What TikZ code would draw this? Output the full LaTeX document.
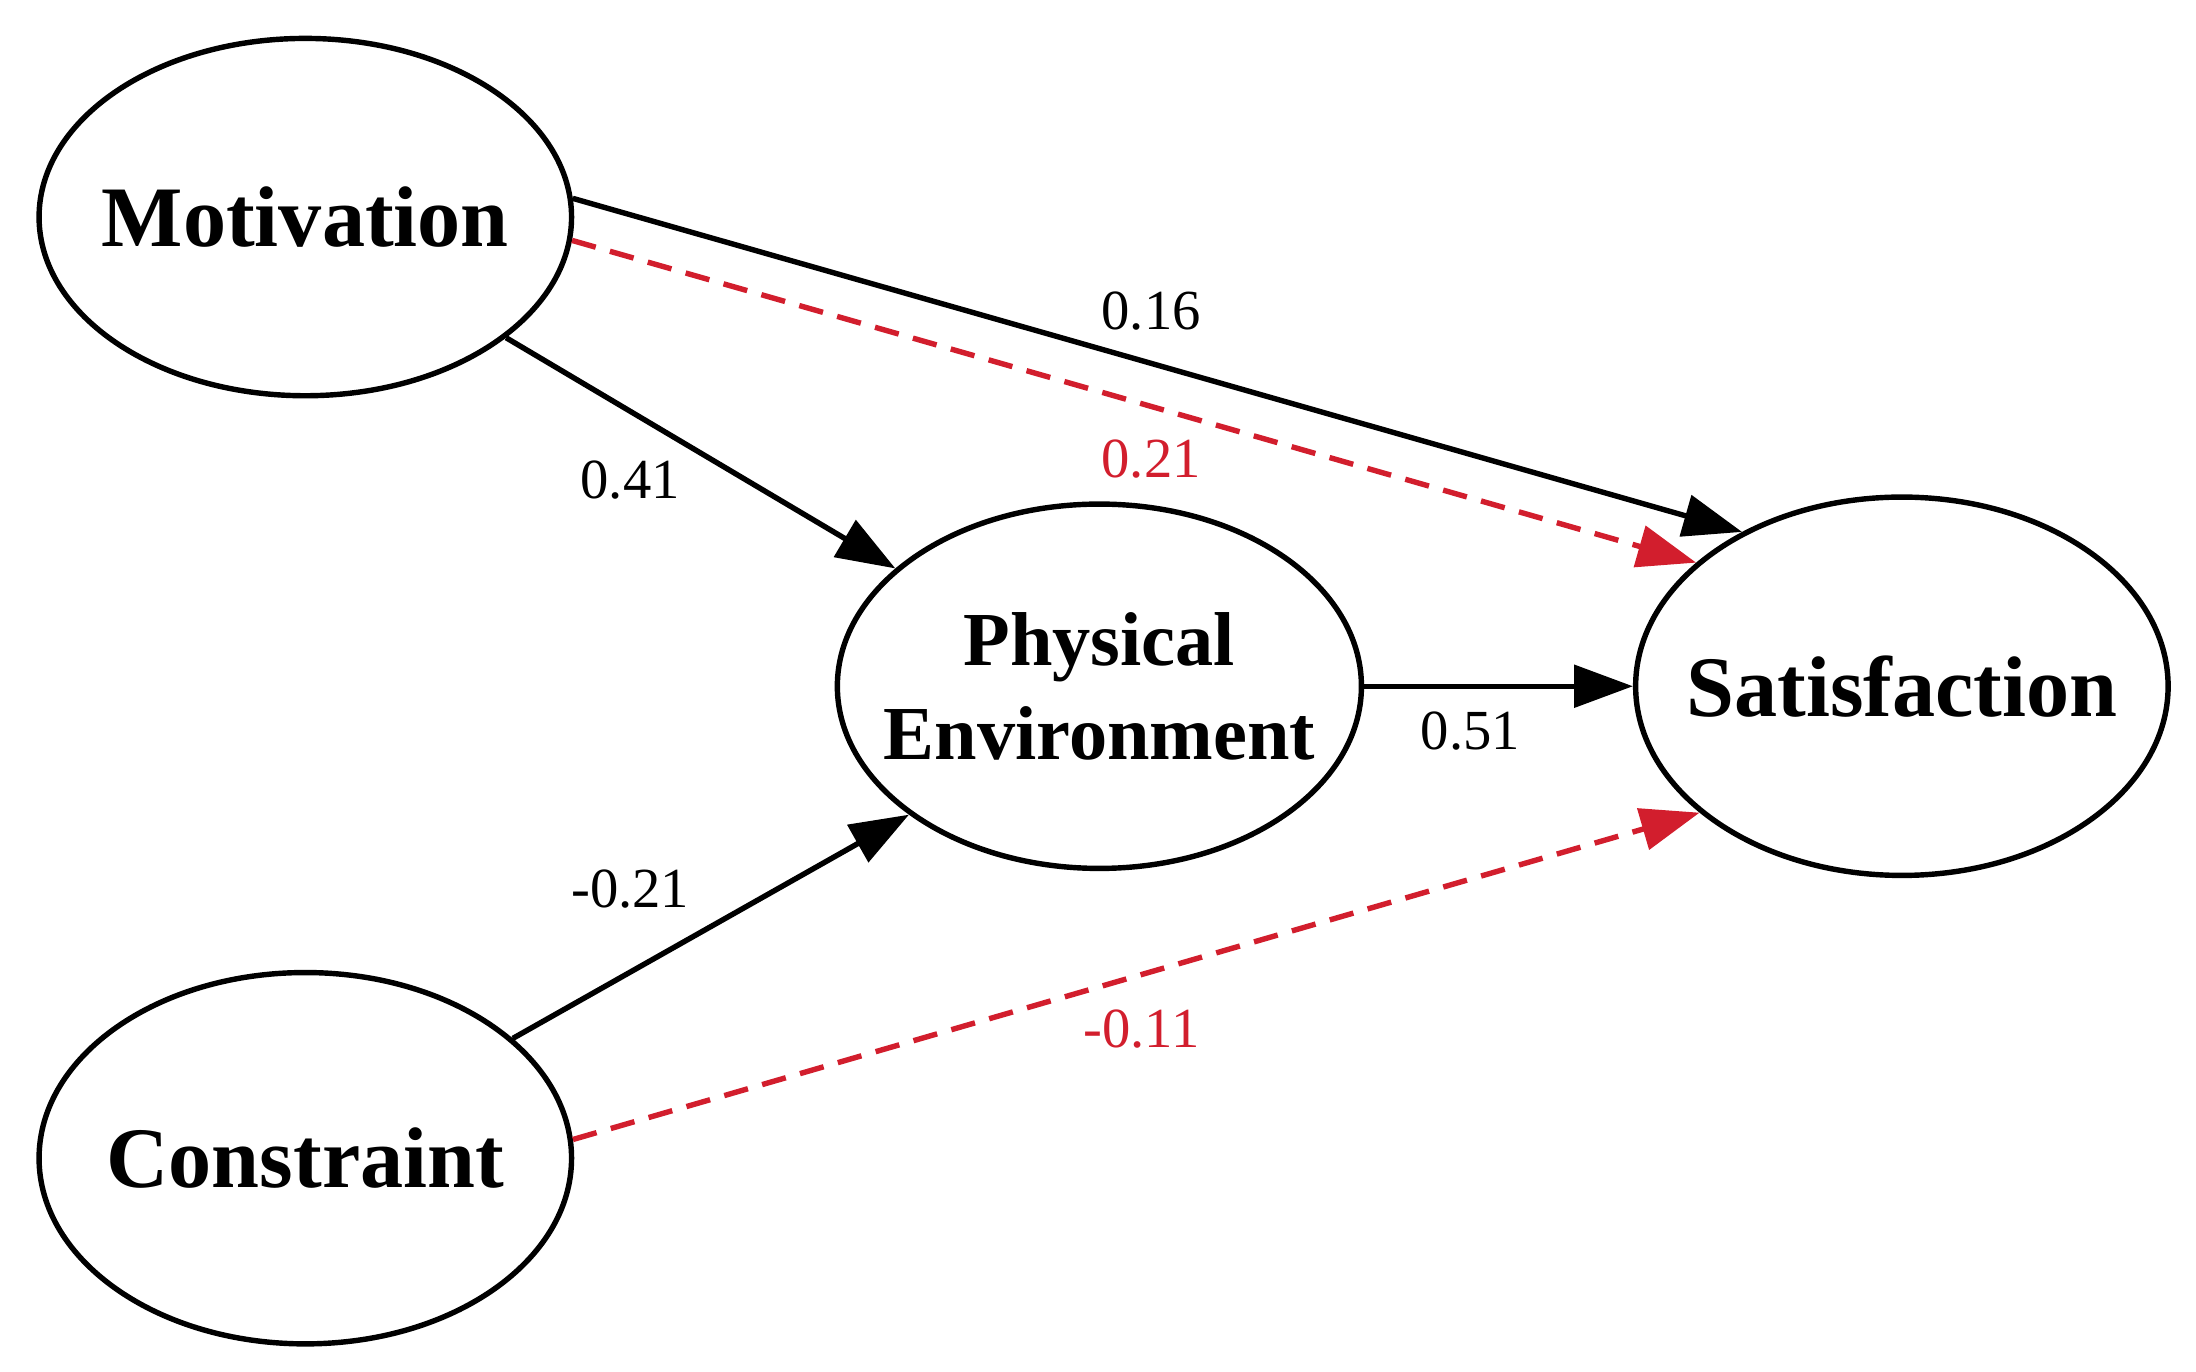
\documentclass[tikz,border=0pt]{standalone}
\usepackage{fontspec}
\setmainfont{Liberation Serif}
\usetikzlibrary{shapes.geometric,arrows.meta}
\definecolor{myred}{RGB}{210,30,45}
\begin{document}
\begin{tikzpicture}[x=0.01cm,y=-0.01cm,
  var/.style={ellipse,draw,line width=1.1pt,inner sep=0pt},
  vt/.style={font=\bfseries\fontsize{17.5}{20}\selectfont,align=center},
  vs/.style={font=\bfseries\fontsize{15.5}{19}\selectfont,align=center},
  arr/.style={line width=1.1pt,-{Triangle[length=0.42cm,width=0.3cm]}},
  dsh/.style={arr,myred,dashed,dash pattern=on 5pt off 3pt},
  lab/.style={font=\fontsize{11.5}{13}\selectfont}]
\useasboundingbox (0,0) rectangle (1568,979);
\node[var,minimum width=3.8cm,minimum height=2.55cm,label={[vt]center:Motivation}] (mot) at (218,155) {};
\node[var,minimum width=3.8cm,minimum height=2.65cm,label={[vt]center:Constraint}] (con) at (218,827) {};
\node[var,minimum width=3.74cm,minimum height=2.6cm,label={[vs]center:Physical\\Environment}] (pe) at (785,490) {};
\node[var,minimum width=3.8cm,minimum height=2.7cm,label={[vt]center:Satisfaction}] (sat) at (1358,490) {};
\draw[arr] (mot.4) -- (sat.136);
\draw[dsh] (mot.-5) -- (sat.149);
\draw[arr] (mot.-31) -- (pe.150);
\draw[arr] (pe.0) -- (sat.180);
\draw[arr] (con.30) -- (pe.214);
\draw[dsh] (con.4) -- (sat.212);
\node[lab] (l1) at (822,222) {0.16};
\node[lab,text=myred] (l2) at (822,328) {0.21};
\node[lab] (l3) at (450,343) {0.41};
\node[lab] (l4) at (1050,522) {0.51};
\node[lab] (l5) at (450,635) {-0.21};
\node[lab,text=myred] (l6) at (815,735) {-0.11};
\end{tikzpicture}
\end{document}
